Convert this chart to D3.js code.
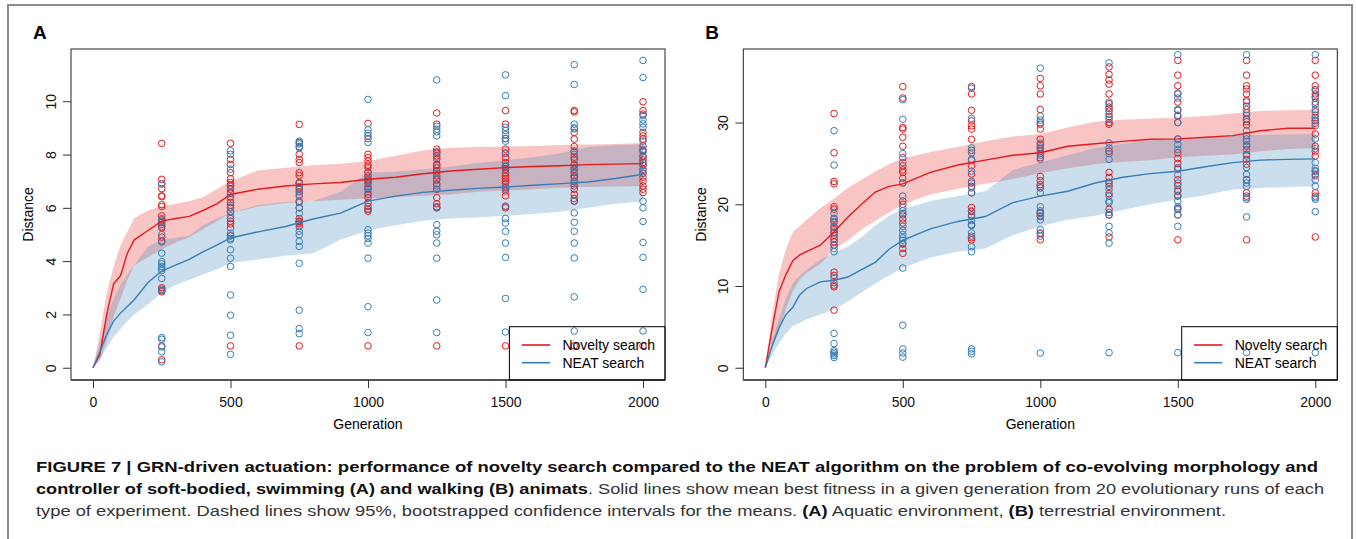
<!DOCTYPE html>
<html>
<head>
<meta charset="utf-8">
<script src="https://cdn.jsdelivr.net/npm/d3@7"></script>
<style>
  body { margin: 0; background: #fff; }
  svg { display: block; font-family: "Liberation Sans", Arial, Helvetica, sans-serif; }
  .tick text { font-size: 14px; fill: #111; }
  .tick line { stroke: #333; }
</style>
</head>
<body>
<svg id="fig" width="1356" height="539"></svg>
<script>
const gens = [0, 25, 50, 75, 100, 125, 150, 200, 250, 300, 350, 400, 450, 500, 600, 700,
  800, 900, 1000, 1100, 1200, 1300, 1400, 1500, 1600, 1700, 1800, 1900, 2000];
// generations where the individual runs are plotted
const runGens = [250, 500, 750, 1000, 1250, 1500, 1750, 2000];
const xTicks = [0, 500, 1000, 1500, 2000];
const seriesNames = ['Novelty search', 'NEAT search'];

// ---- panel A (aquatic) ----
const aNovMean = [0, 0.5, 2.0, 3.15, 3.45, 4.3, 4.8, 5.15, 5.5, 5.6, 5.68, 5.9, 6.15, 6.5, 6.7, 6.82, 6.9, 6.95, 7.07, 7.15, 7.28, 7.38, 7.45, 7.51, 7.55, 7.58, 7.62, 7.64, 7.66];
const aNovHi = [0, 1.3, 2.8, 3.8, 4.6, 5.1, 5.62, 5.9, 6.06, 6.15, 6.25, 6.4, 6.7, 7.0, 7.4, 7.5, 7.6, 7.65, 7.75, 7.95, 8.15, 8.25, 8.28, 8.3, 8.32, 8.36, 8.38, 8.4, 8.43];
const aNovLo = [0, 0.3, 1.0, 1.9, 2.6, 3.3, 3.85, 4.15, 4.45, 4.7, 4.9, 5.2, 5.5, 5.8, 6.05, 6.18, 6.25, 6.3, 6.35, 6.4, 6.45, 6.5, 6.6, 6.65, 6.7, 6.75, 6.78, 6.8, 6.82];
const aNeatMean = [0, 0.6, 1.25, 1.75, 2.05, 2.3, 2.55, 3.2, 3.63, 3.85, 4.07, 4.35, 4.6, 4.87, 5.1, 5.3, 5.58, 5.8, 6.25, 6.44, 6.58, 6.66, 6.73, 6.78, 6.85, 6.91, 6.97, 7.1, 7.26];
const aNeatHi = [0, 0.9, 1.9, 2.6, 3.1, 3.5, 3.85, 4.55, 4.8, 4.88, 4.95, 5.35, 5.6, 5.81, 6.1, 6.22, 6.25, 6.6, 7.33, 7.35, 7.45, 7.55, 7.68, 7.78, 7.9, 8.05, 8.28, 8.35, 8.39];
const aNeatLo = [0, 0.3, 0.75, 1.15, 1.45, 1.75, 2.0, 2.37, 2.8, 3.1, 3.3, 3.5, 3.7, 3.92, 4.06, 4.2, 4.3, 4.8, 5.15, 5.35, 5.52, 5.6, 5.65, 5.7, 5.77, 5.85, 6.0, 6.15, 6.24];

const aNovRuns = [
  [8.42, 7.07, 6.9, 6.72, 6.45, 6.42, 6.12, 6.05, 5.55, 5.45, 5.38, 5.25, 4.9, 4.75, 3.0, 2.9, 2.85, 0.82, 0.3, 5.7],
  [8.42, 7.82, 7.63, 7.32, 7.09, 6.95, 6.85, 6.7, 6.55, 6.4, 6.2, 6.1, 6.0, 5.85, 5.6, 5.5, 5.4, 5.25, 4.95, 0.82],
  [9.13, 8.45, 8.3, 8.01, 7.82, 7.7, 7.32, 7.22, 6.95, 6.92, 6.75, 6.6, 6.25, 6.0, 5.6, 5.49, 5.4, 5.3, 5.5, 0.82],
  [9.17, 8.6, 8.01, 7.89, 7.75, 7.6, 7.51, 7.35, 7.2, 7.05, 6.9, 6.7, 6.38, 6.2, 6.05, 5.94, 5.87, 6.5, 7.0, 0.82],
  [9.56, 9.14, 8.2, 8.05, 7.95, 7.82, 7.63, 7.5, 7.38, 7.2, 7.05, 6.9, 6.38, 6.15, 6.0, 6.04, 6.7, 7.6, 8.1, 0.82],
  [9.65, 9.14, 8.2, 8.05, 7.89, 7.7, 7.45, 7.3, 7.19, 7.0, 6.9, 6.63, 6.45, 6.06, 6.0, 7.55, 8.6, 7.1, 6.75, 0.82],
  [9.65, 9.6, 8.83, 8.58, 8.3, 7.82, 7.6, 7.45, 7.32, 7.15, 7.0, 6.82, 6.7, 6.5, 6.35, 6.25, 7.9, 8.1, 7.2, 0.82],
  [9.98, 9.65, 9.52, 8.83, 8.7, 8.58, 8.32, 8.15, 7.95, 7.8, 7.6, 7.45, 7.3, 7.15, 7.0, 6.82, 6.7, 6.57, 7.7, 0.82]
];
const aNeatRuns = [
  [6.9, 5.6, 5.5, 5.0, 4.3, 3.98, 3.9, 3.8, 3.72, 3.65, 3.35, 2.95, 2.9, 1.13, 1.07, 0.78, 0.6, 0.22, 5.3, 4.72],
  [8.14, 8.01, 7.45, 6.8, 6.6, 6.3, 6.0, 5.85, 5.7, 5.05, 4.95, 4.85, 4.8, 4.43, 4.11, 3.8, 2.73, 1.97, 1.22, 0.5],
  [8.5, 8.4, 8.26, 6.94, 6.8, 6.69, 6.5, 6.44, 6.2, 6.0, 5.8, 5.45, 5.12, 4.99, 4.74, 4.55, 3.92, 2.16, 1.47, 1.28],
  [10.07, 8.93, 8.8, 8.7, 8.45, 7.32, 7.1, 6.95, 6.8, 6.75, 6.6, 5.96, 5.18, 5.05, 4.95, 4.85, 4.68, 4.11, 2.29, 1.32],
  [10.8, 9.06, 8.95, 8.85, 8.7, 8.1, 7.9, 7.3, 7.1, 6.82, 6.69, 6.0, 5.37, 5.12, 4.99, 4.68, 4.11, 2.54, 1.32, 7.5],
  [10.99, 10.21, 9.02, 8.9, 8.75, 8.6, 8.5, 8.05, 7.4, 6.8, 6.7, 6.06, 5.6, 5.43, 5.12, 4.68, 4.14, 2.6, 1.34, 7.6],
  [11.37, 10.63, 9.14, 9.0, 8.96, 8.14, 8.01, 7.63, 7.51, 7.0, 6.25, 5.81, 5.46, 5.12, 4.68, 4.12, 2.66, 1.38, 7.35, 6.9],
  [11.53, 10.89, 9.46, 9.3, 9.15, 9.02, 8.5, 8.1, 7.9, 7.6, 7.4, 7.3, 6.25, 6.0, 5.49, 4.7, 4.14, 2.94, 1.38, 8.2]
];
const aYTicks = [0, 2, 4, 6, 8, 10];

// ---- panel B (terrestrial) ----
const bNovMean = [0, 4.8, 9.3, 11.4, 13.1, 13.8, 14.2, 15.0, 16.6, 18.4, 20.0, 21.5, 22.2, 22.5, 23.9, 24.8, 25.4, 26.0, 26.3, 27.1, 27.4, 27.7, 27.95, 28.0, 28.2, 28.4, 29.0, 29.3, 29.3];
const bNovHi = [0, 6.5, 11.5, 14.5, 16.6, 17.3, 18.1, 19.5, 20.7, 22.0, 23.0, 24.0, 24.9, 25.6, 26.4, 27.0, 27.7, 28.3, 28.6, 29.4, 30.1, 30.35, 30.5, 30.6, 30.8, 31.1, 31.4, 31.5, 31.55];
const bNovLo = [0, 2.5, 4.5, 7.2, 9.4, 10.8, 11.6, 12.7, 14.5, 15.6, 16.9, 18.0, 19.0, 20.0, 21.2, 21.9, 22.5, 23.1, 23.8, 24.4, 24.9, 25.2, 25.4, 25.75, 25.95, 26.1, 26.5, 26.75, 26.9];
const bNeatMean = [0, 2.7, 4.9, 6.5, 7.4, 8.9, 9.7, 10.5, 10.7, 11.1, 12.0, 12.9, 14.5, 15.6, 17.0, 17.9, 18.5, 20.2, 21.0, 21.6, 22.6, 23.3, 23.75, 24.05, 24.6, 25.1, 25.4, 25.5, 25.55];
const bNeatHi = [0, 3.5, 6.0, 8.5, 10.3, 11.3, 12.0, 13.2, 14.1, 14.8, 16.0, 17.4, 18.6, 19.4, 20.4, 21.0, 21.6, 24.2, 25.1, 26.0, 26.9, 27.4, 27.8, 28.0, 28.2, 28.4, 28.5, 28.55, 28.6];
const bNeatLo = [0, 1.6, 3.0, 4.2, 5.1, 5.5, 5.9, 6.5, 7.1, 8.1, 9.2, 10.3, 11.3, 12.2, 13.5, 14.2, 14.6, 16.2, 17.3, 18.1, 18.6, 19.3, 20.0, 20.6, 21.1, 21.8, 22.0, 22.1, 22.2];

const bNovRuns = [
  [31.1, 26.3, 22.8, 22.5, 19.7, 19.4, 18.2, 17.8, 17.3, 16.9, 16.5, 16.2, 15.8, 15.4, 15.0, 11.7, 11.3, 10.1, 9.9, 7.05],
  [34.4, 33.0, 29.4, 29.2, 28.2, 27.1, 25.7, 24.7, 24.2, 23.9, 23.2, 22.6, 20.4, 20.0, 18.7, 18.2, 17.7, 15.2, 14.6, 14.0],
  [34.4, 33.5, 31.5, 30.2, 29.6, 29.2, 27.95, 26.6, 25.4, 24.7, 23.7, 22.6, 22.2, 21.4, 19.6, 19.1, 18.7, 15.9, 15.65, 17.5],
  [35.4, 34.5, 33.5, 31.6, 29.8, 29.2, 27.95, 26.8, 26.2, 23.4, 22.9, 22.4, 22.0, 19.0, 18.5, 18.9, 16.4, 15.65, 25.7, 27.3],
  [36.8, 35.9, 35.2, 34.7, 33.5, 32.3, 31.9, 31.4, 30.0, 23.9, 23.3, 22.7, 22.2, 21.3, 19.4, 18.7, 16.0, 26.5, 30.7, 29.8],
  [37.6, 35.8, 34.5, 33.5, 32.5, 30.8, 30.0, 26.3, 25.6, 25.0, 24.3, 23.0, 22.3, 21.6, 21.0, 19.5, 18.7, 15.65, 28.0, 31.5],
  [37.6, 35.8, 34.5, 34.1, 33.5, 32.0, 31.2, 30.4, 29.7, 26.1, 24.9, 21.4, 21.0, 15.65, 28.4, 27.1, 23.0, 25.5, 30.1, 32.7],
  [37.6, 35.8, 34.5, 34.0, 33.5, 32.5, 31.3, 30.6, 29.9, 27.1, 26.5, 25.9, 24.1, 23.5, 21.4, 21.0, 16.0, 33.2, 30.2, 28.6]
];
const bNeatRuns = [
  [29.0, 24.8, 18.9, 18.3, 17.9, 17.2, 16.6, 15.8, 15.0, 14.6, 14.2, 11.0, 10.4, 4.2, 2.95, 2.1, 1.9, 1.7, 1.5, 1.25],
  [32.8, 30.4, 26.2, 25.1, 22.6, 21.0, 19.6, 19.2, 18.9, 17.3, 16.8, 16.3, 15.9, 15.6, 15.1, 12.2, 5.2, 2.3, 1.8, 1.3],
  [34.2, 30.5, 26.9, 26.3, 24.05, 22.8, 22.0, 21.4, 19.2, 18.5, 18.0, 17.4, 16.5, 16.1, 14.8, 14.2, 2.3, 2.0, 1.7, 25.5],
  [36.65, 30.8, 30.3, 30.0, 27.5, 27.0, 26.5, 26.0, 25.5, 21.4, 19.7, 19.2, 18.6, 18.1, 16.9, 16.5, 16.1, 1.8, 18.9, 22.2],
  [37.3, 32.5, 31.7, 31.0, 30.4, 27.5, 26.9, 26.2, 25.5, 21.8, 21.0, 20.4, 20.2, 18.7, 17.3, 15.25, 1.85, 16.5, 19.0, 22.5],
  [38.3, 33.6, 33.0, 31.6, 30.9, 30.0, 27.95, 26.7, 24.5, 22.6, 21.8, 21.1, 20.4, 19.7, 19.35, 18.7, 17.3, 1.85, 27.3, 23.6],
  [38.3, 32.5, 31.6, 30.9, 30.4, 28.0, 27.3, 26.7, 24.5, 23.65, 23.0, 22.2, 20.8, 20.6, 18.45, 1.85, 27.7, 25.9, 22.6, 29.0],
  [38.3, 34.0, 33.0, 32.2, 31.6, 30.9, 30.3, 29.6, 28.0, 25.1, 24.4, 23.7, 23.0, 22.2, 20.8, 20.6, 19.1, 1.85, 26.8, 24.0]
];
const bYTicks = [0, 10, 20, 30];

const red = '#e41a1c', blue = '#377eb8';

const svg = d3.select('#fig');
svg.append('rect').attr('width', 1356).attr('height', 539).attr('fill', '#fff');

// outer frame of the figure
svg.append('rect')
  .attr('x', 8).attr('y', 5).attr('width', 1344).attr('height', 600)
  .attr('fill', 'none').attr('stroke', '#8c8c8c').attr('stroke-width', 2);

function drawPanel(o) {
  const top = 49, bottom = 380;
  // R style 4% padding around the data range
  const x = d3.scaleLinear().domain([-80, 2080]).range([o.left, o.right]);
  const pad = o.yMax * 0.04;
  const y = d3.scaleLinear().domain([-pad, o.yMax + pad]).range([bottom, top]);
  const g = svg.append('g');

  const series = [
    { mean: o.novMean, lo: o.novLo, hi: o.novHi, runs: o.novRuns, color: red },
    { mean: o.neatMean, lo: o.neatLo, hi: o.neatHi, runs: o.neatRuns, color: blue }
  ];

  const area = d3.area()
    .x((d, i) => x(gens[i]))
    .y0(d => y(d[0]))
    .y1(d => y(d[1]));
  series.forEach(s => {
    g.append('path')
      .datum(s.lo.map((v, i) => [v, s.hi[i]]))
      .attr('d', area)
      .attr('fill', s.color)
      .attr('fill-opacity', 0.26);
  });

  // individual runs
  series.forEach(s => {
    const pts = [];
    s.runs.forEach((vals, j) => vals.forEach(v => pts.push([runGens[j], v])));
    g.append('g').selectAll('circle')
      .data(pts)
      .join('circle')
      .attr('cx', d => x(d[0]))
      .attr('cy', d => y(d[1]))
      .attr('r', 3.3)
      .attr('fill', 'none')
      .attr('stroke', s.color)
      .attr('stroke-width', 1);
  });

  const line = d3.line().x((d, i) => x(gens[i])).y(d => y(d));
  series.forEach(s => {
    g.append('path')
      .datum(s.mean)
      .attr('d', line)
      .attr('fill', 'none')
      .attr('stroke', s.color)
      .attr('stroke-width', 1.4);
  });

  // box
  g.append('rect')
    .attr('x', o.left).attr('y', top)
    .attr('width', o.right - o.left).attr('height', bottom - top)
    .attr('fill', 'none').attr('stroke', '#222').attr('stroke-width', 1);
  g.append('line')
    .attr('x1', o.left).attr('x2', o.right).attr('y1', bottom).attr('y2', bottom)
    .attr('stroke', '#555').attr('stroke-width', 2);

  // axes
  const xAxis = g.append('g')
    .attr('transform', `translate(0,${bottom})`)
    .call(d3.axisBottom(x).tickValues(xTicks).tickFormat(d3.format('d'))
      .tickSize(8).tickSizeOuter(0).tickPadding(9.5));
  xAxis.select('.domain').remove();

  const yAxis = g.append('g')
    .attr('transform', `translate(${o.left},0)`)
    .call(d3.axisLeft(y).tickValues(o.yTicks).tickFormat(d3.format('d'))
      .tickSize(8).tickSizeOuter(0));
  yAxis.select('.domain').remove();
  yAxis.selectAll('.tick text')
    .attr('x', null).attr('dy', null)
    .attr('transform', 'translate(-15.5,0) rotate(-90)')
    .style('text-anchor', 'middle');

  // axis titles
  g.append('text')
    .attr('x', (o.left + o.right) / 2).attr('y', 429)
    .attr('text-anchor', 'middle').attr('font-size', 14)
    .text('Generation');
  g.append('text')
    .attr('transform', `translate(${o.left - 37.7},${(top + bottom) / 2}) rotate(-90)`)
    .attr('text-anchor', 'middle').attr('font-size', 14)
    .text('Distance');

  // panel letter
  g.append('text')
    .attr('x', o.left - 38).attr('y', 39)
    .attr('font-size', 19).attr('font-weight', 'bold')
    .text(o.label);

  // legend (bottom right, transparent)
  const lw = 155.6, lh = 53.3;
  const lg = g.append('g').attr('transform', `translate(${o.right - lw},${bottom - lh})`);
  lg.append('rect').attr('width', lw).attr('height', lh)
    .attr('fill', 'none').attr('stroke', '#000').attr('stroke-width', 1);
  series.forEach((s, i) => {
    const yy = 18.3 + i * 17.7;
    lg.append('line').attr('x1', 12.4).attr('x2', 40.7).attr('y1', yy).attr('y2', yy)
      .attr('stroke', s.color).attr('stroke-width', 1.6);
    lg.append('text').attr('x', 53).attr('y', yy + 5)
      .attr('font-size', 14).text(seriesNames[i]);
  });
}

drawPanel({
  label: 'A', left: 71, right: 665, yMax: 11.5, yTicks: aYTicks,
  novMean: aNovMean, novLo: aNovLo, novHi: aNovHi, novRuns: aNovRuns,
  neatMean: aNeatMean, neatLo: aNeatLo, neatHi: aNeatHi, neatRuns: aNeatRuns
});
drawPanel({
  label: 'B', left: 743.3, right: 1337.3, yMax: 37.5, yTicks: bYTicks,
  novMean: bNovMean, novLo: bNovLo, novHi: bNovHi, novRuns: bNovRuns,
  neatMean: bNeatMean, neatLo: bNeatLo, neatHi: bNeatHi, neatRuns: bNeatRuns
});

// caption
const captionLines = [
  { y: 472, len: 1282, parts: [
    ['FIGURE 7 | GRN-driven actuation: performance of novelty search compared to the NEAT algorithm on the problem of co-evolving morphology and', true]] },
  { y: 494, len: 1288, parts: [
    ['controller of soft-bodied, swimming (A) and walking (B) animats', true],
    ['. Solid lines show mean best fitness in a given generation from 20 evolutionary runs of each', false]] },
  { y: 516, len: 1190, parts: [
    ['type of experiment. Dashed lines show 95%, bootstrapped confidence intervals for the means. ', false],
    ['(A)', true], [' Aquatic environment, ', false], ['(B)', true], [' terrestrial environment.', false]] }
];
captionLines.forEach(l => {
  const t = svg.append('text')
    .attr('x', 36).attr('y', l.y)
    .attr('font-size', 15.5)
    .attr('textLength', l.len).attr('lengthAdjust', 'spacingAndGlyphs')
    .style('white-space', 'pre');
  l.parts.forEach(p => {
    t.append('tspan')
      .attr('font-weight', p[1] ? 'bold' : 'normal')
      .attr('fill', p[1] ? '#111' : '#333')
      .text(p[0]);
  });
});
</script>
</body>
</html>
